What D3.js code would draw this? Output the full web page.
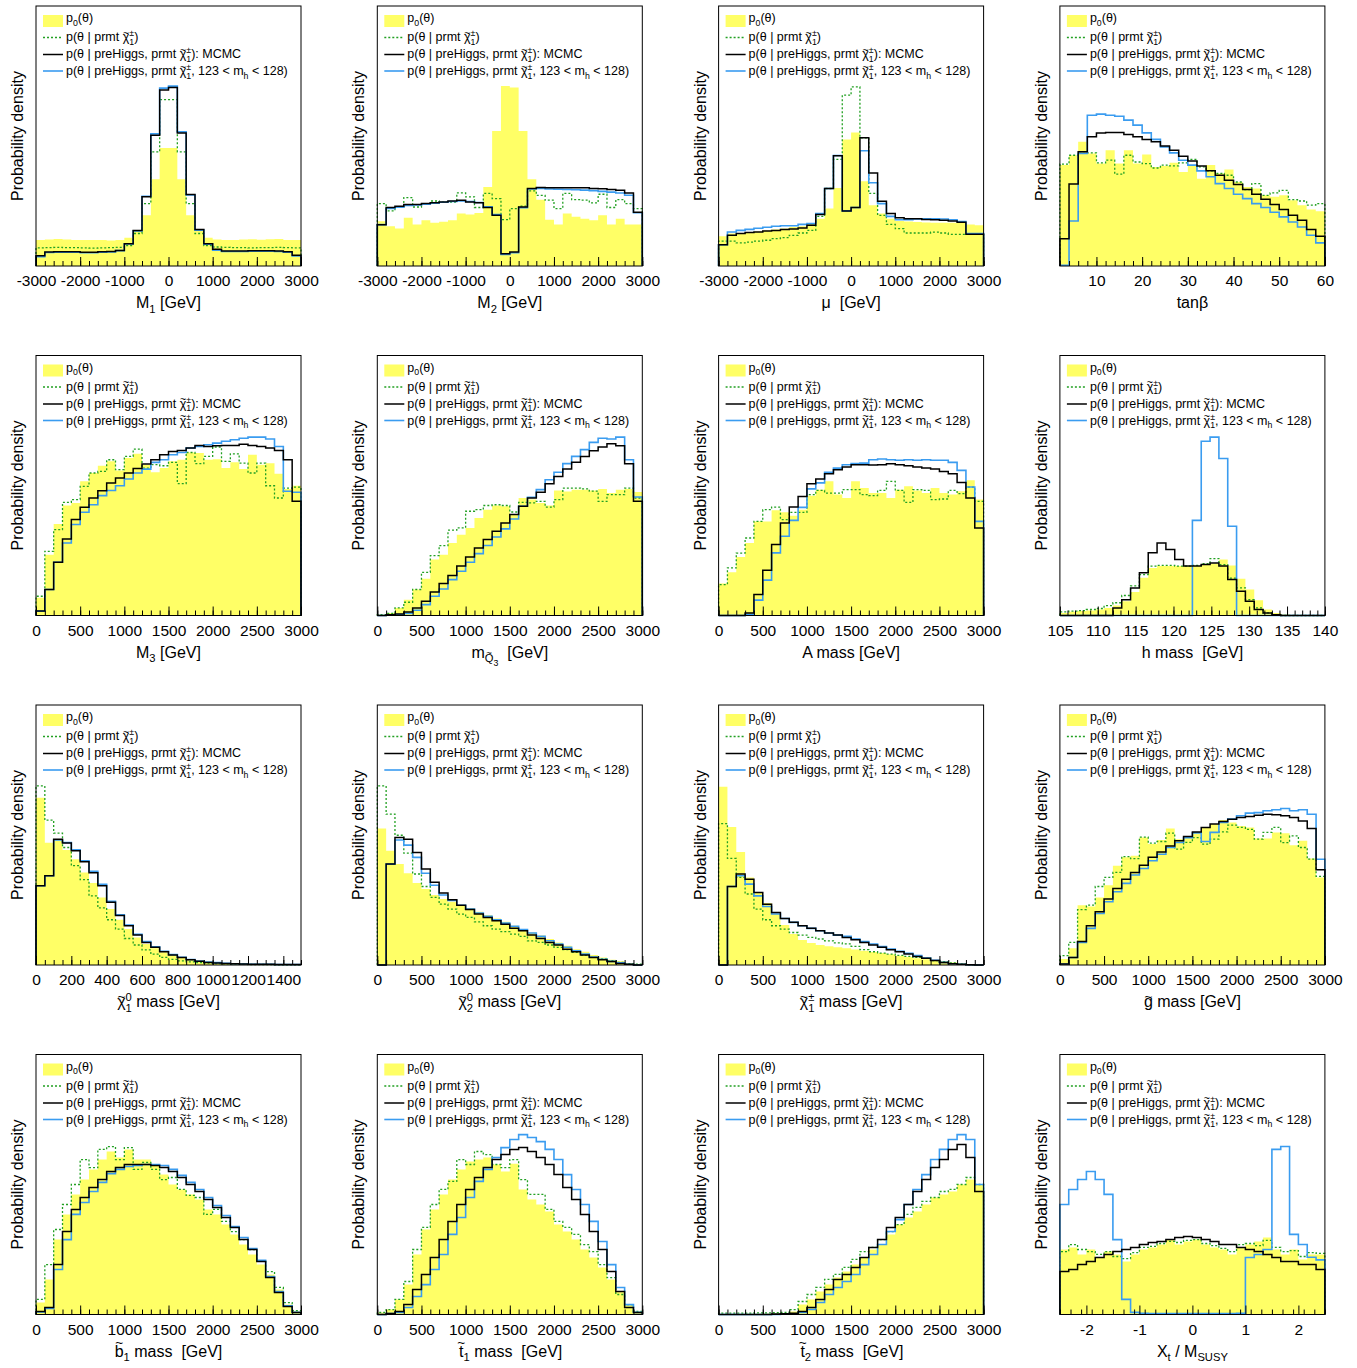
<!DOCTYPE html>
<html>
<head>
<meta charset="utf-8">
<script src="https://cdn.jsdelivr.net/npm/d3@7"></script>
<style>
  body { margin: 0; background: #fff; }
  svg { display: block; }
  text { white-space: pre; }
</style>
</head>
<body>
<div id="chart"></div>
<script>
// histogram heights in % of the frame height, one value per bin
const M1_p0   = [10,10.2,10.4,10.2,10,10,10,10,9.8,10,10.9,13.7,19.5,33.4,45.4,45.4,33.4,19.5,13.7,10.9,10.2,10,10,10.2,10.3,10.1,10.3,10.4,10,10]
const M1_prmt = [7.0,7.1,7.2,7.1,7.1,7.0,6.9,7.0,7.1,7.2,7.8,12.5,24,43.9,64,64,43.9,24,12.5,7.8,7.3,7.2,7.1,7.1,7.0,7.1,7.1,7.2,7.1,7.0]
const M1_mcmc = [3.9,5.4,5.5,5.5,5.5,5.3,5.3,5.5,5.6,6.0,8.6,13.7,26.6,50.3,67.7,68.7,51.2,27.5,14.0,8.6,6.4,5.8,5.8,5.8,5.9,5.9,5.9,5.8,5.5,4.1]
const M1_mh   = [3.6,5.2,5.3,5.3,5.3,5.1,5.1,5.3,5.4,5.9,8.5,13.5,26.8,50.8,68.4,69.2,51.6,27.3,13.8,8.4,6.1,5.6,5.6,5.6,5.7,5.7,5.7,5.6,5.3,3.9]

const M2_p0   = [17.2,15.3,14.4,18.6,16.0,17.6,16.6,17.0,17.6,20.2,19.8,20.4,30.4,51.9,69.2,68.7,51.9,33.4,25.5,17.8,16.0,20.2,18.9,18.2,17.6,19.5,16.0,18.2,16.0,16.0]
const M2_prmt = [24.0,21.2,22.7,26.3,22.7,23.7,25.0,24.6,24.6,28.1,26.6,22.5,27.9,25.9,17.8,22.1,23.0,28.9,27.2,25.3,22.1,27.9,25.5,25.3,24.3,27.6,22.5,25.5,24.0,22.1]
const M2_mcmc = [15.9,22.5,23.0,23.7,23.7,24.0,24.3,24.6,25.0,25.3,24.6,24.3,22.5,19.5,4.7,5.4,22.7,29.8,30.2,30.1,30.1,30.1,30.1,30.1,29.8,29.7,29.4,29.1,28.1,20.7]
const M2_mh   = [15.9,22.1,22.6,23.3,23.5,23.8,24.2,24.5,24.8,25.0,24.8,24.4,22.8,19.8,4.4,5.1,22.4,29.6,29.8,29.6,29.5,29.4,29.3,29.2,29.0,28.7,28.4,28.1,27.2,20.5]

const MU_p0   = [11.4,12.5,12.7,13.1,13.3,13.7,14.0,14.4,15.0,15.3,16.3,18.2,22.1,30.0,48.7,51.3,32.6,23.4,20.2,18.2,17.3,17.1,16.9,16.7,16.6,16.6,16.6,16.6,16.0,15.7]
const MU_prmt = [9.6,9.6,8.9,9.2,9.6,9.9,10.5,10.9,11.8,12.7,13.7,19.1,29.8,41.0,65.7,68.9,49.3,27.9,19.5,16.0,14.4,12.7,12.7,12.7,13.0,12.7,12.2,12.2,12.2,12.2]
const MU_mcmc = [8.2,11.8,12.5,12.9,13.1,13.5,13.7,14.0,14.2,14.6,15.7,19.8,29.8,42.4,21.2,22.5,49.3,35.8,24.9,20.2,18.6,18.2,18.2,17.9,17.8,17.6,17.3,16.8,12.2,12.2]
const MU_mh   = [8.2,13.1,13.7,14.1,14.5,14.9,15.3,15.5,15.5,16.0,16.3,20.2,29.8,42.5,21.2,22.5,44.3,32.0,24.0,19.1,17.8,17.8,18.1,18.2,18.2,18.1,17.8,17.1,12.5,12.5]

const TB_p0   = [38.8,42.6,47.8,43.3,39.4,44.5,39.4,44.5,39.4,42.9,38.1,38.5,39.7,36.2,38.5,33.6,38.8,35.6,37.1,32.3,30.4,29.8,27.2,26.6,27.2,25.3,23.4,21.7,21.1]
const TB_prmt = [39.2,42.6,43.3,43.5,39.7,40.7,35.3,42.6,40.0,39.4,37.7,38.8,38.5,39.7,41.0,38.1,36.6,35.6,34.9,32.3,29.4,31.7,27.2,28.1,29.1,25.5,25.0,23.4,24.0]
const TB_mcmc = [10.5,31.5,43.9,49.7,51.2,51.3,51.3,50.6,49.7,48.7,47.8,46.2,44.5,42.2,40.4,38.5,36.6,34.9,33.0,31.3,29.4,27.6,25.7,23.7,21.7,19.5,17.6,14.0,11.4]
const TB_mh   = [0.3,17.3,43.3,58.0,58.4,58.0,57.6,56.1,54.2,51.2,48.7,45.8,43.5,40.7,38.8,36.6,34.3,31.7,29.8,27.6,25.9,24.0,22.5,20.7,18.9,16.9,15.0,11.8,8.9]

const M3_p0   = [6.8,23.4,35.2,42.3,43.3,51.6,54.8,57.6,59.3,55.8,60.6,62.2,58.0,55.1,56.7,59.3,59.9,62.7,62.5,59.9,60.1,56.7,58.9,56.3,61.8,58.0,58.6,54.5,48.7,49.9]
const M3_prmt = [7.4,24.7,33.0,43.5,44.6,49.7,54.8,55.4,59.9,56.1,61.2,64.0,56.7,58.0,57.6,58.9,50.7,62.7,58.4,61.2,64.8,59.3,62.2,58.6,54.8,58.6,49.9,45.2,49.0,49.4]
const M3_mcmc = [1.7,10.0,20.5,29.4,36.9,41.6,45.2,48.0,51.0,52.9,54.8,56.5,58.3,59.9,61.8,63.1,63.5,64.4,65.4,65.0,65.3,65.4,65.4,65.9,65.4,65.0,64.4,63.5,59.9,43.9]
const M3_mh   = [1.7,10.0,20.5,27.9,35.0,39.7,42.6,46.1,48.1,49.9,52.5,54.8,56.3,58.9,59.9,61.8,62.7,64.4,65.0,65.7,66.3,67.0,67.6,68.2,68.6,68.6,67.9,65.0,47.8,47.4]

const MQ_p0   = [0.3,1.0,2.9,6.1,10.0,14.1,21.5,23.4,27.9,31.1,33.7,37.5,40.7,42.3,42.0,38.8,45.2,44.6,43.3,42.3,48.1,47.7,48.4,48.4,48.1,48.7,47.1,48.4,48.7,47.5]
const MQ_prmt = [0.3,0.8,2.9,5.1,10.0,16.6,23.0,26.9,32.8,33.7,40.1,40.7,42.3,42.6,42.3,39.8,43.5,43.3,43.9,41.7,44.6,49.0,49.0,48.7,47.8,43.9,46.5,46.5,49.0,45.2]
const MQ_mcmc = [0,0.3,0.6,1.3,2.9,5.5,9.0,12.3,15.4,19.0,22.5,26.0,29.2,32.4,35.6,38.8,42.0,45.2,47.4,50.7,53.5,56.3,58.9,61.2,63.4,64.8,66.1,65.3,58.4,43.9]
const MQ_mh   = [0,0.1,0.4,0.8,2.0,4.2,7.4,10.2,13.8,17.0,20.5,23.8,26.9,30.2,33.3,37.1,42.0,45.5,48.4,52.2,55.1,58.4,61.2,63.8,66.6,68.2,67.9,68.6,59.9,45.6]

const MA_p0   = [12.3,16.6,22.5,27.9,36.2,36.2,40.5,39.7,38.4,40.7,46.1,48.4,51.6,46.5,45.2,51.6,49.0,47.1,47.1,45.2,48.4,49.7,48.1,47.1,49.0,47.1,46.5,47.8,52.0,44.6]
const MA_prmt = [11.9,18.3,24.0,29.8,36.2,40.7,41.7,36.9,39.7,39.7,46.5,48.1,47.1,47.1,48.4,48.4,46.5,46.1,48.1,51.6,48.1,43.5,48.4,48.1,44.6,44.8,48.1,46.9,49.4,43.9]
const MA_mcmc = [0,0,0,1.0,8.1,17.4,27.3,35.6,41.7,45.8,50.7,52.5,54.5,56.1,57.1,58.0,58.0,57.9,58.0,58.4,58.0,57.6,57.1,56.7,56.3,55.4,54.5,51.2,45.2,33.7]
const MA_mh   = [0,0,0,0.4,5.9,13.6,24.1,30.5,36.6,41.6,48.7,51.0,55.1,56.7,58.0,58.4,58.6,59.9,60.2,59.9,59.7,59.9,59.7,59.9,59.7,59.7,58.9,55.8,49.4,36.2]

const MHIG_p0   = [1.0,1.4,1.7,1.9,2.3,2.9,3.8,5.5,9.0,14.5,18.3,19.0,19.0,19.0,19.0,19.0,19.6,20.0,21.5,19.2,14.1,10.0,5.9,2.3,1.0,0.4,0,0,0,0]
const MHIG_prmt = [1.4,1.7,1.9,2.3,2.7,3.8,4.9,7.7,11.4,15.7,19.0,19.3,19.3,19.0,19.0,19.3,19.9,21.9,19.6,14.4,10.6,6.1,2.9,1.0,0.3,0,0,0,0,0]
const MHIG_mcmc = [0,0,0,0,0,0,2.9,6.1,10.6,16.4,24.1,27.9,25.4,21.5,19.0,19.0,19.6,20.2,19.0,13.8,9.3,5.5,2.3,1.0,0.3,0,0,0,0,0]
const MHIG_mh   = [0,0,0,0,0,0,0,0,0,0,0,0,0,0,0,36.6,67.0,68.6,60.4,34.3,0,0,0,0,0,0,0,0,0,0]

const N1_p0   = [64.3,47,48,44.2,40.7,35.6,31.5,26,21.5,17.4,13.8,10.6,8.1,6.4,4.9,3.8,2.9,2.3,1.7,1.3,1.0,0.8,0.6,0.5,0.3,0.3,0.3,0.2,0.2,0.2]
const N1_prmt = [68.9,55.7,50.7,45.2,38.2,32.8,26.6,22,17.4,13.8,10.2,7.7,5.8,4.2,2.9,2.2,1.6,1.2,0.9,0.7,0.5,0.4,0.3,0.3,0.2,0.2,0.2,0.1,0.1,0.1]
const N1_mcmc = [30.5,34.3,48.4,46.9,43.9,39.7,35.5,30.5,24.1,19.0,15.1,11.5,8.7,6.8,5.1,3.8,2.9,2.0,1.4,1.0,0.8,0.6,0.5,0.4,0.3,0.3,0.3,0.2,0.2,0.2]
const N1_mh   = [30.5,34.3,48.1,47.1,44.3,40.1,36.0,31.0,24.5,19.3,15.4,11.8,9.0,7.0,5.3,4.0,3.0,2.1,1.5,1.1,0.9,0.7,0.5,0.4,0.3,0.3,0.3,0.2,0.2,0.2]

const N2_p0   = [52.5,43.9,38.8,35.3,31.5,29.2,26.9,25.4,24.3,23.0,21.8,20.5,19.2,17.9,16.6,15.1,13.8,12.5,11.3,10.0,8.7,7.4,6.1,5.1,3.8,2.9,2.0,1.4,0.8,0.3]
const N2_prmt = [68.9,58.0,49.9,43.0,35.0,30.2,26.0,23.4,21.5,19.6,18.3,16.6,15.1,13.8,12.8,11.9,11.0,9.3,8.7,7.7,6.8,5.9,4.9,3.8,2.9,2.3,1.7,1.0,0.5,0.3]
const N2_mcmc = [0,38.8,49.0,48.4,43.3,36.9,31.8,27.7,25.1,23.0,21.3,19.6,18.3,17.0,15.7,14.1,13.2,11.5,10.2,8.7,7.7,6.1,5.1,3.8,2.9,2.0,1.3,0.6,0.3,0]
const N2_mh   = [0,38.8,48.1,46.1,41.4,35.3,30.7,26.9,24.8,23.0,21.5,20.0,18.7,17.4,16.1,14.9,13.6,12.3,11.0,9.3,8.1,6.8,5.5,4.2,3.1,2.2,1.4,0.8,0.3,0]

const C1_p0   = [68.6,53.1,43.5,33.7,27.9,23.8,19.6,15.4,11.9,9.6,8.5,7.7,7.2,6.8,6.4,6.0,5.5,5.0,4.6,4.1,3.6,3.1,2.6,2.2,1.8,1.4,1.0,0.6,0.3,0.1]
const C1_prmt = [54.4,41.0,33.7,27.3,21.5,17.4,15.1,13.8,12.5,11.5,10.6,10.0,9.3,8.5,8.1,7.2,5.9,5.1,4.6,4.2,3.7,3.3,2.9,2.6,1.7,1.3,0.8,0.4,0.1,0]
const C1_mcmc = [0,30.2,35.0,33.0,27.9,23.4,20.2,17.9,16.4,15.1,14.1,13.2,12.3,11.5,10.6,9.7,8.7,7.7,6.8,5.9,5.1,4.2,3.3,2.6,1.7,1.0,0.5,0.3,0.1,0]
const C1_mh   = [0,30.2,34.3,31.1,26.6,22.5,19.6,17.9,16.4,15.1,14.1,13.2,12.3,11.5,11.0,10.0,9.0,8.1,7.1,6.1,5.3,4.5,3.6,2.7,1.8,1.0,0.5,0.3,0.1,0]

const GL_p0   = [2.3,6.4,23.0,22.5,26.0,30.7,38.2,41.4,42.0,49.0,46.5,48.1,52.5,48.4,49.0,51.2,52.9,54.2,55.8,54.8,53.5,52.9,48.7,48.7,51.0,50.7,46.1,47.8,41.0,33.7]
const GL_prmt = [3.6,8.7,21.3,23.0,30.2,33.7,35.6,41.7,40.9,49.2,46.9,47.5,50.7,44.6,47.2,49.0,46.5,48.4,51.2,53.8,52.9,52.2,48.4,51.0,52.9,47.1,49.7,45.2,40.7,34.1]
const GL_mcmc = [0.4,2.9,9.0,15.1,20.5,25.4,29.4,33.0,35.6,38.4,41.4,43.5,45.8,47.8,49.4,51.2,52.9,54.2,55.2,56.1,56.7,57.1,57.6,58.0,57.8,57.4,56.7,55.4,52.5,36.6]
const GL_mh   = [0.4,2.9,8.7,14.1,19.8,24.3,28.2,31.4,34.6,37.1,40.1,42.6,45.2,47.1,49.0,50.8,47.5,51.0,54.8,56.1,57.4,58.4,58.6,59.3,59.7,60.2,59.3,59.7,58.0,40.7]

const SB_p0   = [4.6,13.5,28.8,38.5,46.2,51.9,55.8,59.6,62.7,60.4,63.5,59.6,59.6,57.7,53.8,50.0,48.1,46.2,44.2,40.4,38.5,34.6,30.8,26.9,23.1,19.2,15.4,9.6,3.8,1.2]
const SB_prmt = [5.8,19.2,32.7,42.3,50.0,59.6,56.5,63.5,64.6,59.6,64.2,55.8,58.5,55.8,51.9,52.7,48.1,45.8,45.0,38.5,40.4,35.8,31.9,28.8,25.0,20.4,16.5,10.4,4.6,1.5]
const SB_mcmc = [1.2,2.7,19.2,31.9,40.4,45.0,48.8,51.9,55.0,56.5,57.7,57.7,57.7,57.3,56.5,55.0,52.7,50.0,47.3,44.2,41.2,37.3,33.5,28.8,25.0,20.4,14.2,8.5,3.1,0.8]
const SB_mh   = [1.0,2.3,17.3,28.8,38.5,43.1,47.3,50.8,54.2,55.8,56.9,57.3,57.7,57.7,57.3,55.8,53.5,50.8,48.1,45.0,41.9,38.1,33.8,29.6,25.4,20.8,14.6,8.8,3.3,0.8]

const ST1_p0   = [0.8,1.9,5.8,11.5,23.1,32.7,40.4,46.2,51.9,55.8,58.8,59.6,60.4,57.7,55.0,58.0,48.1,44.2,42.3,39.6,34.6,31.9,28.8,25.0,21.9,18.1,13.5,8.8,3.8,1.2]
const ST1_prmt = [0.8,1.9,5.8,12.7,25.0,33.5,42.3,48.1,51.2,59.6,57.7,62.7,61.5,57.7,56.5,59.6,51.9,46.2,46.2,40.4,35.8,33.5,30.8,26.9,24.2,19.2,14.2,7.7,3.8,1.2]
const ST1_mcmc = [0,0.4,1.2,3.8,9.6,15.4,21.9,28.8,35.8,42.3,48.1,52.7,56.5,59.6,61.5,63.5,64.2,62.7,60.4,57.7,53.8,48.8,44.2,38.5,31.9,25.0,16.5,8.8,2.7,0.8]
const ST1_mh   = [0,0.4,0.8,2.7,6.9,11.5,17.3,23.1,30.8,37.3,45.0,51.2,55.8,60.4,64.2,67.3,69.2,68.1,66.5,63.5,59.6,53.8,48.1,42.3,35.8,28.1,19.2,10.4,3.8,0.8]

const ST2_p0   = [0.2,0.2,0.2,0.3,0.3,0.4,0.5,0.6,1.2,3.8,5.8,8.8,11.5,14.2,16.5,19.2,21.9,25.0,26.9,30.8,34.6,37.3,39.6,42.3,45.0,46.2,47.3,50.0,51.9,50.0]
const ST2_prmt = [0.5,0.5,0.5,0.5,0.6,0.6,0.7,0.8,1.9,5.0,7.7,10.4,13.5,15.4,18.1,21.2,24.2,25.8,28.8,31.9,34.6,38.5,41.2,43.5,45.0,47.3,48.1,50.0,52.7,50.0]
const ST2_mcmc = [0,0,0,0,0,0,0.2,0.3,0.5,1.2,2.7,5.8,9.6,13.5,15.4,18.1,21.9,25.8,28.8,33.5,37.3,42.3,47.3,51.9,56.5,59.6,63.5,65.4,60.4,47.3]
const ST2_mh   = [0,0,0,0,0,0,0,0.1,0.3,0.8,1.9,4.6,7.7,10.4,12.7,15.4,19.2,23.1,26.9,31.9,36.5,42.3,48.1,53.8,59.6,63.5,67.3,69.2,67.3,50.0]

const XT_p0   = [25.0,25.8,23.1,25.0,21.9,24.2,23.1,20.4,23.1,25.0,25.8,26.9,28.8,26.9,28.1,28.8,26.9,25.8,25.0,23.1,25.8,26.9,28.1,29.6,25.0,23.1,25.0,21.2,23.1,23.1]
const XT_prmt = [24.2,26.9,25.0,24.2,23.1,24.2,22.3,21.5,23.8,25.8,26.2,27.3,28.1,27.7,28.5,28.8,27.3,26.5,25.4,24.2,26.9,27.3,26.5,28.5,25.8,24.2,24.6,22.3,23.8,23.5]
const XT_mcmc = [16.5,17.3,19.2,20.4,21.9,23.1,24.2,25.0,25.8,26.9,27.7,28.1,28.8,29.6,30.0,29.6,28.8,28.1,26.9,26.9,25.8,25.0,24.2,23.1,21.9,20.4,20.4,19.2,19.2,17.3]
const XT_mh   = [42.3,48.1,51.9,55.0,51.9,46.2,28.8,5.8,0.8,0.5,0.4,0.4,0.4,0.4,0.4,0.4,0.4,0.4,0.4,0.4,0.5,21.9,23.1,25.0,63.5,64.6,30.8,26.9,22.0,21.0]

// tick labels
const ticksPM    = [-3000,-2000,-1000,0,1000,2000,3000]
const ticksTan   = [10,20,30,40,50,60]
const ticks3000  = [0,500,1000,1500,2000,2500,3000]
const ticksHiggs = [105,110,115,120,125,130,135,140]
const ticksN1    = [0,200,400,600,800,1000,1200,1400]
const ticksXt    = [-2,-1,0,1,2]

const chi = [["χ",""],["~","tilde"]]
const legendLabels = [
  [["p",""],["0","sub"],["(θ)",""]],
  [["p(θ | prmt ",""],...chi,["±","sup"],["1","under"],[")",""]],
  [["p(θ | preHiggs, prmt ",""],...chi,["±","sup"],["1","under"],["): MCMC",""]],
  [["p(θ | preHiggs, prmt ",""],...chi,["±","sup"],["1","under"],[", 123 < m",""],["h","sub"],[" < 128)",""]]
]

const panels = [
  {title: [["M",""],["1","sub"],[" [GeV]",""]], dom: [-3000,3000], ticks: ticksPM, minor: 200, h: [M1_p0,M1_prmt,M1_mcmc,M1_mh]},
  {title: [["M",""],["2","sub"],[" [GeV]",""]], dom: [-3000,3000], ticks: ticksPM, minor: 200, h: [M2_p0,M2_prmt,M2_mcmc,M2_mh]},
  {title: [["μ  [GeV]",""]], dom: [-3000,3000], ticks: ticksPM, minor: 200, h: [MU_p0,MU_prmt,MU_mcmc,MU_mh]},
  {title: [["tanβ",""]], dom: [2,60], ticks: ticksTan, minor: 2, h: [TB_p0,TB_prmt,TB_mcmc,TB_mh]},
  {title: [["M",""],["3","sub"],[" [GeV]",""]], dom: [0,3000], ticks: ticks3000, minor: 100, h: [M3_p0,M3_prmt,M3_mcmc,M3_mh]},
  {title: [["m",""],["Q","sub"],["~","subtilde"],["3","subsub"],["  [GeV]",""]], dom: [0,3000], ticks: ticks3000, minor: 100, h: [MQ_p0,MQ_prmt,MQ_mcmc,MQ_mh]},
  {title: [["A mass [GeV]",""]], dom: [0,3000], ticks: ticks3000, minor: 100, h: [MA_p0,MA_prmt,MA_mcmc,MA_mh]},
  {title: [["h mass  [GeV]",""]], dom: [105,140], ticks: ticksHiggs, minor: 1, h: [MHIG_p0,MHIG_prmt,MHIG_mcmc,MHIG_mh]},
  {title: [...chi,["0","sup"],["1","under"],[" mass [GeV]",""]], dom: [0,1500], ticks: ticksN1, minor: 50, h: [N1_p0,N1_prmt,N1_mcmc,N1_mh]},
  {title: [...chi,["0","sup"],["2","under"],[" mass [GeV]",""]], dom: [0,3000], ticks: ticks3000, minor: 100, h: [N2_p0,N2_prmt,N2_mcmc,N2_mh]},
  {title: [...chi,["±","sup"],["1","under"],[" mass [GeV]",""]], dom: [0,3000], ticks: ticks3000, minor: 100, h: [C1_p0,C1_prmt,C1_mcmc,C1_mh]},
  {title: [["g",""],["~","tilde"],[" mass [GeV]",""]], dom: [0,3000], ticks: ticks3000, minor: 100, h: [GL_p0,GL_prmt,GL_mcmc,GL_mh]},
  {title: [["b",""],["~","tildeHi"],["1","sub"],[" mass  [GeV]",""]], dom: [0,3000], ticks: ticks3000, minor: 100, h: [SB_p0,SB_prmt,SB_mcmc,SB_mh]},
  {title: [["t",""],["~","tildeHi"],["1","sub"],[" mass  [GeV]",""]], dom: [0,3000], ticks: ticks3000, minor: 100, h: [ST1_p0,ST1_prmt,ST1_mcmc,ST1_mh]},
  {title: [["t",""],["~","tildeHi"],["2","sub"],[" mass  [GeV]",""]], dom: [0,3000], ticks: ticks3000, minor: 100, h: [ST2_p0,ST2_prmt,ST2_mcmc,ST2_mh]},
  {title: [["X",""],["t","sub"],[" / M",""],["SUSY","sub"]], dom: [-2.5,2.5], ticks: ticksXt, minor: 0.2, h: [XT_p0,XT_prmt,XT_mcmc,XT_mh]}
]

const FONT = "'Liberation Sans', Arial, Helvetica, sans-serif"
const yellow = "#ffff66", green = "#22a022", black = "#000", blue = "#3a9cf0"
const W = 1357, H = 1368
const pw = 265, ph = 260

const svg = d3.select("#chart").append("svg")
  .attr("width", W).attr("height", H)
  .style("font-family", FONT)

// [size factor, baseline shift factor]
const KIND = {
  "": [1, 0], sub: [0.7, 0.3], sup: [0.7, -0.4], under: [0.7, 0.3], subsub: [0.55, 0.55],
  tilde: [0.85, -0.36], tildeHi: [0.85, -0.58], subtilde: [0.6, -0.1]
}

// text with sub/superscripts and tildes as tspans
function rich(text, parts, F) {
  let shift = 0, supW = 0, prevW = 0, pending = 0
  parts.forEach(([t, k]) => {
    const [sf, bf] = KIND[k]
    const target = bf*F
    const ts = text.append("tspan").attr("font-size", sf*F).attr("dy", target - shift).text(t)
    const w = ts.node().getComputedTextLength()
    let dx = pending
    pending = 0
    if (k === "under") dx = -supW
    if (k.indexOf("tilde") >= 0) { dx = -(prevW + w)/2; pending = (prevW - w)/2 }
    if (dx) ts.attr("dx", dx)
    shift = target
    if (k === "sup") supW = w
    if (k.indexOf("tilde") < 0) prevW = w
  })
}

panels.forEach((p, i) => {
  const c = i % 4, r = Math.floor(i / 4)
  const left = 36 + c*341.3, top = 6 + r*349.5
  const g = svg.append("g").attr("transform", `translate(${left},${top})`)

  const x = d3.scaleLinear().domain(p.dom).range([0, pw])
  const y = d3.scaleLinear().domain([0, 100]).range([ph, 0])
  const n = p.h[0].length
  const bw = (p.dom[1] - p.dom[0]) / n
  const pts = vals => [[p.dom[0], 0]].concat(vals.map((v, k) => [p.dom[0] + k*bw, v]), [[p.dom[1], vals[n-1]], [p.dom[1], 0]])

  const area = d3.area().curve(d3.curveStepAfter).x(d => x(d[0])).y0(y(0)).y1(d => y(d[1]))
  const line = d3.line().curve(d3.curveStepAfter).x(d => x(d[0])).y(d => y(d[1]))

  g.append("path").attr("d", area(pts(p.h[0]))).attr("fill", yellow)
  g.append("path").attr("d", line(pts(p.h[1]))).attr("fill", "none")
    .attr("stroke", green).attr("stroke-width", 1.3).attr("stroke-dasharray", "2,2")
  g.append("path").attr("d", line(pts(p.h[3]))).attr("fill", "none")
    .attr("stroke", blue).attr("stroke-width", 1.6)
  g.append("path").attr("d", line(pts(p.h[2]))).attr("fill", "none")
    .attr("stroke", black).attr("stroke-width", 1.5)

  // axes: ticks pointing up into the frame
  const minorVals = d3.range(p.dom[0], p.dom[1] + bw/100, p.minor)
  g.append("g").attr("transform", `translate(0,${ph})`)
    .call(d3.axisBottom(x).tickValues(minorVals).tickSize(-5).tickFormat(""))
    .call(a => a.select(".domain").remove())
  const ax = g.append("g").attr("transform", `translate(0,${ph})`)
    .call(d3.axisBottom(x).tickValues(p.ticks).tickSize(-9).tickPadding(9).tickFormat(d => String(d)))
  ax.select(".domain").remove()
  ax.selectAll("text").attr("font-size", 15.5).attr("font-family", FONT).attr("fill", "#000")
  ax.selectAll("line").attr("stroke", "#000")

  g.append("rect").attr("width", pw).attr("height", ph)
    .attr("fill", "none").attr("stroke", "#000").attr("stroke-width", 1)

  const xt = g.append("text").attr("x", pw/2).attr("y", ph + 42)
    .attr("text-anchor", "middle").attr("font-size", 16)
  rich(xt, p.title, 16)

  g.append("text").attr("transform", `translate(-13,${ph/2}) rotate(-90)`)
    .attr("text-anchor", "middle").attr("font-size", 16).text("Probability density")

  // legend
  const lg = g.append("g")
  lg.append("rect").attr("x", 7).attr("y", 9).attr("width", 20).attr("height", 12).attr("fill", yellow)
  const lineY = [15, 31.5, 48.5, 65]
  const textY = [16, 35, 52, 69]
  const styles = [null, [green, "2,2", 1.3], [black, null, 1.5], [blue, null, 1.6]]
  styles.forEach((s, k) => {
    if (!s) return
    lg.append("line").attr("x1", 7).attr("x2", 27).attr("y1", lineY[k]).attr("y2", lineY[k])
      .attr("stroke", s[0]).attr("stroke-width", s[2]).attr("stroke-dasharray", s[1])
  })
  legendLabels.forEach((lab, k) => {
    const t = lg.append("text").attr("x", 30).attr("y", textY[k]).attr("font-size", 12.5)
    rich(t, lab, 12.5)
  })
})
</script>
</body>
</html>
